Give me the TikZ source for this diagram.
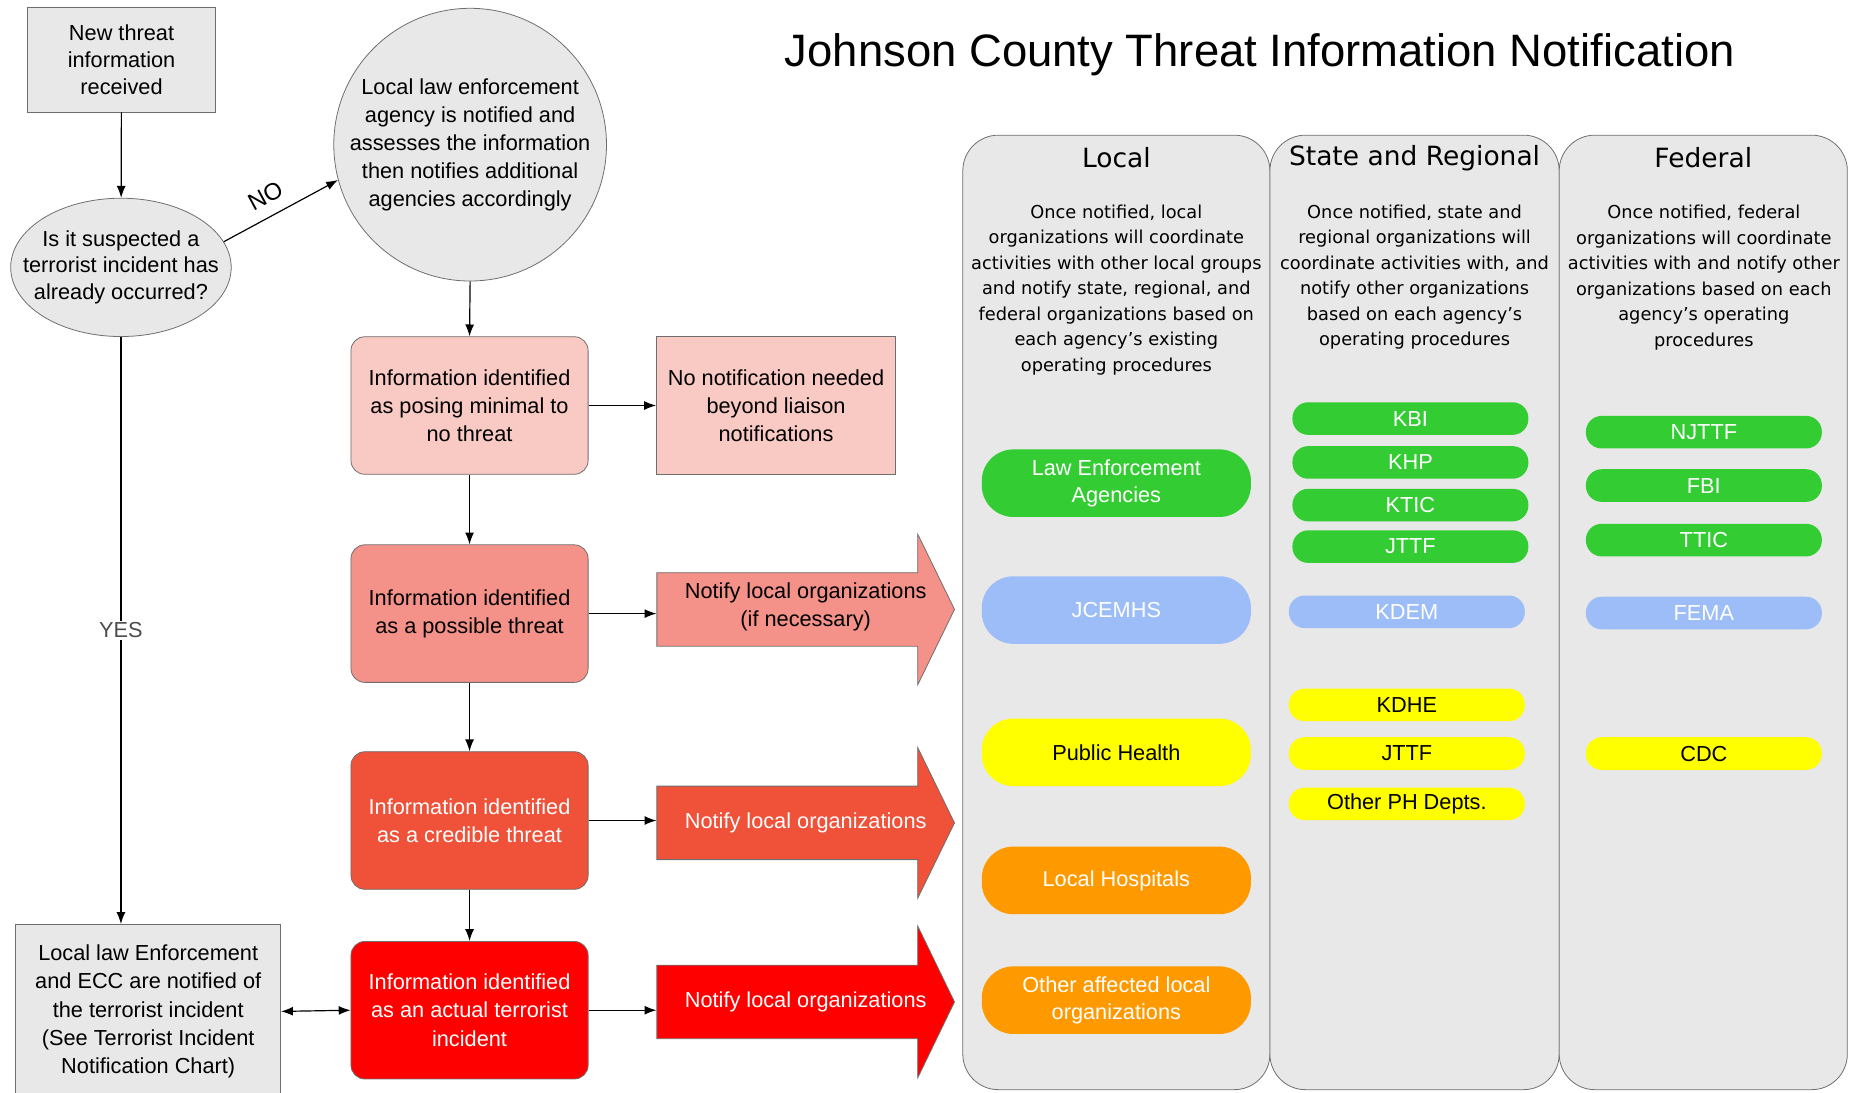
\documentclass[tikz,border=0pt]{standalone}
\usepackage{fontspec}
\setmainfont{Liberation Sans}
\newfontfamily\verdfont{DejaVu Sans}
\usetikzlibrary{shapes,arrows.meta}
\definecolor{boxgray}{HTML}{E8E8E8}
\definecolor{linegray}{HTML}{6E6E6E}
\definecolor{pinkbox}{HTML}{F9C9C3}
\definecolor{salmonbox}{HTML}{F4928A}
\definecolor{credred}{HTML}{EF5139}
\definecolor{actred}{HTML}{FF0000}
\definecolor{orggreen}{HTML}{33CC33}
\definecolor{orgblue}{HTML}{9DBDF8}
\definecolor{orgyellow}{HTML}{FFFF00}
\definecolor{orgorange}{HTML}{FF9900}

\tikzset{
  flowtext/.style={font=\fontsize{11}{14.2}\selectfont, align=center},
  graybox/.style={flowtext, draw=linegray, fill=boxgray, inner sep=2pt},
  threatbox/.style={flowtext, draw=linegray, rounded corners=7pt, minimum width=120pt, minimum height=69.6pt},
  column/.style={draw=linegray, fill=boxgray, rounded corners=18pt, minimum height=483pt},
  colhead/.style={font=\verdfont\fontsize{13.4}{16}\selectfont},
  coldesc/.style={font=\verdfont\fontsize{9}{12.9}\selectfont, align=center},
  bigpill/.style={flowtext, rounded corners=16pt, minimum width=136.2pt, minimum height=34.2pt, font=\fontsize{11}{13.8}\selectfont},
  pill/.style={font=\fontsize{11}{13}\selectfont, rounded corners=8pt, minimum width=119.4pt, minimum height=16.5pt, inner sep=0pt},
  flow/.style={-{Latex[length=6pt,width=4.5pt]}, line width=0.6pt},
}

\begin{document}
\begin{tikzpicture}[x=0.6pt,y=-0.6pt]
		\useasboundingbox (0,0) rectangle (1567,921);
		\node[font=\fontsize{23}{28}\selectfont, anchor=base] (title) at (1062.5,55.8) {Johnson County Threat Information Notification};

		% left side: start and decision
		\node[graybox, minimum width=94.8pt, minimum height=52.8pt, font=\fontsize{11}{13.8}\selectfont] (newinfo) at (102.5,50.5) {New threat\\information\\received};
		\node[ellipse, draw=linegray, fill=boxgray, minimum width=111.6pt, minimum height=70pt, inner sep=0pt,
			label={[flowtext, font=\fontsize{11}{13.5}\selectfont]center:{Is it suspected a\\terrorist incident has\\already occurred?}}] (suspect) at (102,225.5) {};
		\node[circle, draw=linegray, fill=boxgray, minimum size=138pt, inner sep=0pt,
			label={[flowtext]center:{Local law enforcement\\agency is notified and\\assesses the information\\then notifies additional\\agencies accordingly}}] (assess) at (396.5,122) {};
		\node[graybox, minimum width=134pt, minimum height=88pt] (lawbox) at (125,853) {Local law Enforcement\\and ECC are notified of\\the terrorist incident\\(See Terrorist Incident\\Notification Chart)};

		% threat levels
		\node[threatbox, fill=pinkbox] (minimal) at (396,342) {Information identified\\as posing minimal to\\no threat};
		\node[threatbox, fill=salmonbox] (possible) at (396,517.5) {Information identified\\as a possible threat};
		\node[threatbox, fill=credred, text=white] (credible) at (396,692) {Information identified\\as a credible threat};
		\node[threatbox, fill=actred, text=white] (actual) at (396,852) {Information identified\\as an actual terrorist\\incident};
		\node[graybox, fill=pinkbox, minimum width=121pt, minimum height=69.6pt] (nonote) at (654.5,342) {No notification needed\\beyond liaison\\notifications};

		% notify arrows
		\foreach \y/\h/\c in {514/63.5/salmonbox, 694/63.5/credred, 845/64/actred}
			\filldraw[fill=\c, draw=linegray] (554,\y-31) -- (774,\y-31) -- (774,\y-\h) -- (805,\y) -- (774,\y+\h) -- (774,\y+31) -- (554,\y+31) -- cycle;
		\node[flowtext, minimum width=150.6pt, minimum height=37.2pt] (notify1) at (679.5,512) {Notify local organizations\\(if necessary)};
		\node[flowtext, minimum width=150.6pt, minimum height=37.2pt, text=white] (notify2) at (679.5,694) {Notify local organizations};
		\node[flowtext, minimum width=150.6pt, minimum height=37.2pt, text=white] (notify3) at (679.5,845) {Notify local organizations};

		% connectors
		\draw[flow] (newinfo) -- (suspect);
		\draw[flow] (suspect.14) -- node[pos=0.45, sloped, above=5pt, inner sep=1pt, font=\fontsize{12}{14}\selectfont] (nolabel) {NO} (assess.195);
		\draw[flow] (suspect.south) -- node[fill=white, text=black!70, font=\fontsize{11}{13}\selectfont, inner sep=1pt] (yeslabel) {YES} (suspect.south |- lawbox.north);
		\draw[flow] (assess.south) -- (minimal.north);
		\draw[flow] (minimal) -- (possible);
		\draw[flow] (possible) -- (credible);
		\draw[flow] (credible) -- (actual);
		\draw[flow] (minimal) -- (nonote);
		\draw[flow] (possible.east) -- (possible.east -| notify1.west);
		\draw[flow] (credible.east) -- (credible.east -| notify2.west);
		\draw[flow] (actual.east) -- (actual.east -| notify3.west);
		\draw[{Latex[length=6pt,width=4.5pt]}-{Latex[length=6pt,width=4.5pt]}, line width=0.6pt] (lawbox.east) -- (actual.west);

		% columns
		\node[column, minimum width=155.4pt] (localcol) at (941.5,516.5) {};
		\node[column, minimum width=146.4pt] (statecol) at (1193,516.5) {};
		\node[column, minimum width=145.8pt] (fedcol) at (1436.5,516.5) {};
		\node[colhead] (localhead) at (941.5,133) {Local};
		\node[colhead] (statehead) at (1193,133) {State and Regional};
		\node[colhead] (fedhead) at (1436.5,133) {Federal};
		\node[coldesc] (localdesc) at (941.5,244.6) {Once notified, local\\organizations will coordinate\\activities with other local groups\\and notify state, regional, and\\federal organizations based on\\each agency’s existing\\operating procedures};
		\node[coldesc] (statedesc) at (1193,233.5) {Once notified, state and\\regional organizations will\\coordinate activities with, and\\notify other organizations\\based on each agency’s\\operating procedures};
		\node[coldesc] (feddesc) at (1437,234) {Once notified, federal\\organizations will coordinate\\activities with and notify other\\organizations based on each\\agency’s operating\\procedures};

		% local organizations
		\node[bigpill, fill=orggreen, text=white] (lea) at (941.5,407.5) {Law Enforcement\\Agencies};
		\node[bigpill, fill=orgblue, text=white] (jcemhs) at (941.5,514.5) {JCEMHS};
		\node[bigpill, fill=orgyellow] (pubhealth) at (941.5,634.5) {Public Health};
		\node[bigpill, fill=orgorange, text=white] (hospitals) at (941.5,742.5) {Local Hospitals};
		\node[bigpill, fill=orgorange, text=white] (otherlocal) at (941.5,843.5) {Other affected local\\organizations};

		% state and regional organizations
		\foreach \id/\name/\y in {kbi/KBI/353, khp/KHP/390, ktic/KTIC/426, jttf/JTTF/461}
			\node[pill, fill=orggreen, text=white] (\id) at (1189.5,\y) {\name};
		\node[pill, fill=orgblue, text=white] (kdem) at (1186.5,516) {KDEM};
		\foreach \id/\name/\y in {kdhe/KDHE/594.5, phjttf/JTTF/635.5, otherph/Other PH Depts./678}
			\node[pill, fill=orgyellow] (\id) at (1186.5,\y) {\name};

		% federal organizations
		\foreach \id/\name/\y in {njttf/NJTTF/364.5, fbi/FBI/409.5, ttic/TTIC/455.5}
			\node[pill, fill=orggreen, text=white] (\id) at (1437,\y) {\name};
		\node[pill, fill=orgblue, text=white] (fema) at (1437,517) {FEMA};
		\node[pill, fill=orgyellow] (cdc) at (1437,635.5) {CDC};
		\end{tikzpicture}
\end{document}
